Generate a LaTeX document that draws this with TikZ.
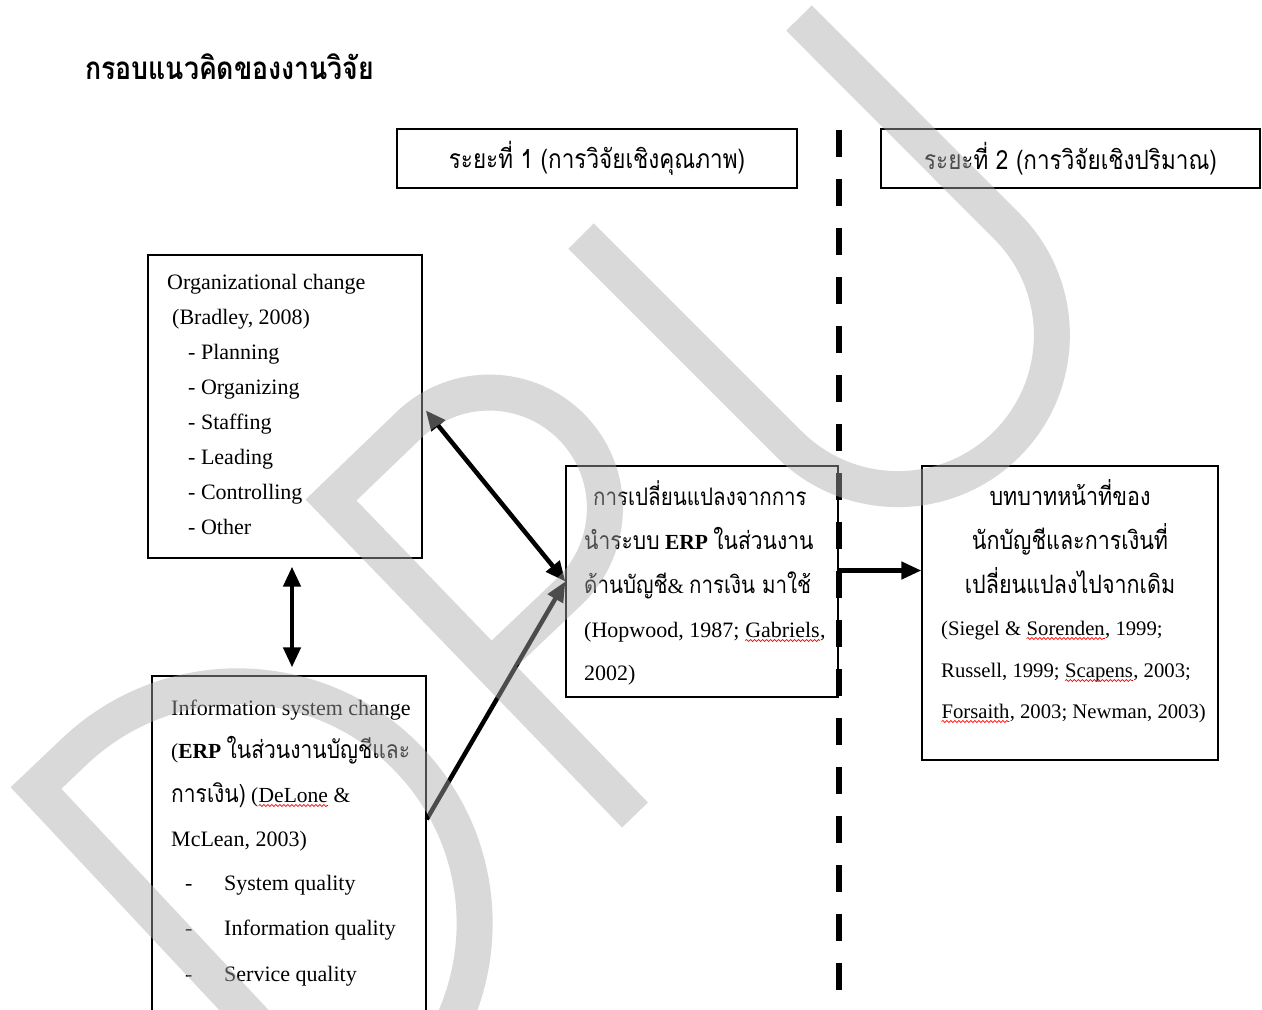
\documentclass[tikz,border=0pt]{standalone}
\usepackage{fontspec}
\setmainfont{Liberation Serif}
\newfontfamily\thaifont[Script=Thai,Scale=1.15,FakeStretch=0.85]{Loma}
\usetikzlibrary{arrows.meta,positioning,decorations.pathmorphing}
\definecolor{markgray}{RGB}{170,170,170}
\newcommand\thaitxt[1]{{\thaifont #1}}
\newcommand\spellmark[1]{\tikz[baseline=(sw.base)]{\node[inner sep=0pt,outer sep=0pt,anchor=base] (sw) at (0,0) {#1};
  \draw[red,line width=.7pt,decorate,decoration={snake,amplitude=1pt,segment length=4pt}]
    ([yshift=-3.5pt]sw.base west) -- ([yshift=-3.5pt]sw.base east);}}

\begin{document}
\begin{tikzpicture}[x=1pt,y=-1pt,
    boxframe/.style={draw=black,line width=1.3pt,inner sep=0pt},
    txtline/.style={anchor=base west,inner sep=0pt,font=\fontsize{22}{26}\selectfont},
    reftxt/.style={txtline,font=\fontsize{20.7}{24}\selectfont},
    link/.style={line width=4.5pt,-{Triangle[length=20pt,width=17pt]}},
    twoway/.style={line width=4.5pt,{Triangle[length=20pt,width=17pt]}-{Triangle[length=20pt,width=17pt]}},
    wmark/.style={line width=36pt,draw=markgray,draw opacity=.45,line join=miter}]
    \useasboundingbox (0,0) rectangle (1262,1010);
    \node[anchor=base west,inner sep=0pt,
      font=\fontsize{27.3}{30}\selectfont\bfseries\thaifont] (title) at (85,79) {กรอบแนวคิดของงานวิจัย};

    % phases
    \node[boxframe,minimum width=400pt,minimum height=59pt,font=\fontsize{23}{26}\selectfont]
      (phaseOne) at (597,158.5) {\thaitxt{ระยะที่ 1 (การวิจัยเชิงคุณภาพ)}};
    \node[boxframe,minimum width=379pt,minimum height=59pt,font=\fontsize{23}{26}\selectfont]
      (phaseTwo) at (1070.5,158.5) {\thaitxt{ระยะที่ 2 (การวิจัยเชิงปริมาณ)}};
    \coordinate (splitTop) at (839,130);
    \coordinate (splitBot) at (839,992);

    % boxes
    \node[boxframe,minimum width=274pt,minimum height=303pt] (orgBox) at (285,406.5) {};
    \node[boxframe,minimum width=274pt,minimum height=354pt] (infoBox) at (289,853) {};
    \node[boxframe,minimum width=272pt,minimum height=231pt] (erpBox) at (702,581.5) {};
    \node[boxframe,minimum width=296pt,minimum height=294pt] (roleBox) at (1070,613) {};

    \foreach \x/\txt [count=\i] in {167/Organizational change,172/{(Bradley, 2008)},
        188/- Planning,188/- Organizing,188/- Staffing,188/- Leading,188/- Controlling,188/- Other}
      \node[txtline] (org\i) at (\x,{289+35.1*(\i-1)}) {\txt};

    \node[txtline] (info1) at (171,715) {Information system change};
    \node[txtline,font=\fontsize{21.5}{26}\selectfont] (info2) at (171,758)
      {(\textbf{ERP} \thaitxt{ในส่วนงานบัญชีและ}};
    \node[txtline,font=\fontsize{21.5}{26}\selectfont] (info3) at (171,802)
      {\thaitxt{การเงิน)}\ (\spellmark{DeLone} \&};
    \node[txtline] (info4) at (171,846) {McLean, 2003)};
    \foreach \txt [count=\i] in {System quality,Information quality,Service quality}{
      \node[txtline] (infoDash\i) at (185,{890+45.5*(\i-1)}) {-};
      \node[txtline] (infoItem\i) at (224,{890+45.5*(\i-1)}) {\txt};
    }

    \node[txtline,font=\fontsize{21}{26}\selectfont] (erp1) at (593,505) {\thaitxt{การเปลี่ยนแปลงจากการ}};
    \node[txtline,font=\fontsize{21.5}{26}\selectfont] (erp2) at (584,549)
      {\thaitxt{นำระบบ} \textbf{ERP} \thaitxt{ในส่วนงาน}};
    \node[txtline,font=\fontsize{21}{26}\selectfont] (erp3) at (584,593)
      {\thaitxt{ด้านบัญชี}\& \thaitxt{การเงิน มาใช้}};
    \node[txtline] (erp4) at (584,637) {(Hopwood, 1987; \spellmark{Gabriels},};
    \node[txtline] (erp5) at (584,680) {2002)};

    \node[txtline,anchor=base] (role1) at (1070,505) {\thaitxt{บทบาทหน้าที่ของ}};
    \node[txtline,anchor=base] (role2) at (1070,549) {\thaitxt{นักบัญชีและการเงินที่}};
    \node[txtline,anchor=base] (role3) at (1070,593) {\thaitxt{เปลี่ยนแปลงไปจากเดิม}};
    \node[reftxt] (role4) at (941,635) {(Siegel \& \spellmark{Sorenden}, 1999;};
    \node[reftxt] (role5) at (941,677) {Russell, 1999; \spellmark{Scapens}, 2003;};
    \node[reftxt] (role6) at (941,718) {\spellmark{Forsaith}, 2003; Newman, 2003)};

    % connectors
    \draw[line width=6pt,dash pattern=on 27pt off 22pt] (splitTop) -- (splitBot);
    \draw[twoway,shorten <=8pt,shorten >=8pt] ([xshift=7pt]orgBox.south)
      -- ([xshift=7pt]orgBox.south |- infoBox.north);
    \draw[twoway,shorten <=5pt] (orgBox.east) -- (erpBox.west);
    \coordinate (infoOut) at ([yshift=-144pt]infoBox.north east);
    \draw[link] (infoOut) -- (erpBox.west);
    \coordinate (erpOut) at ([yshift=11pt]erpBox.east);
    \draw[link] (erpOut) -- (erpOut -| roleBox.west);

    % watermark DPU
    \begin{scope}[wmark]
      \clip (0,0) rectangle (1262,1010);
      \draw (36,788) -- (76,750) arc[start angle=-133,end angle=47,radius=237]
        -- (360,1134) -- cycle;
      \draw (635,815) -- (331,500) -- (409,425) arc[start angle=-134,end angle=46,radius=115.6]
        -- (491,666);
      \draw (581,236) -- (789,444) arc[start angle=135,end angle=-45,radius=154] -- (799,18);
    \end{scope}
  \end{tikzpicture}
\end{document}
